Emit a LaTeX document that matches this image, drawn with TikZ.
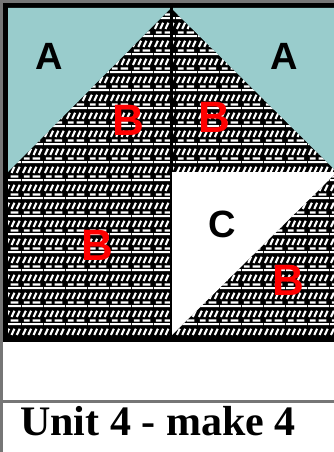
\documentclass[tikz,border=0pt]{standalone}
\usepackage{fontspec}
\setmainfont{Liberation Serif}
\setsansfont{Liberation Sans}
\usetikzlibrary{patterns}
\definecolor{patchteal}{RGB}{153,204,204}
\definecolor{framegray}{RGB}{118,118,118}
\definecolor{patchred}{RGB}{255,0,0}
\pgfdeclarepatternformonly{quiltweave}{\pgfqpoint{0pt}{0pt}}{\pgfqpoint{22pt}{18pt}}{\pgfqpoint{22pt}{18pt}}{
  \pgfsetlinewidth{2.2pt}
  \pgfpathmoveto{\pgfqpoint{0pt}{2pt}}\pgfpathlineto{\pgfqpoint{22pt}{2pt}}
  \pgfpathmoveto{\pgfqpoint{2pt}{5.8pt}}\pgfpathlineto{\pgfqpoint{8pt}{5.8pt}}
  \pgfpathmoveto{\pgfqpoint{11pt}{5.8pt}}\pgfpathlineto{\pgfqpoint{19pt}{5.8pt}}
  \pgfpathmoveto{\pgfqpoint{1pt}{9.5pt}}\pgfpathlineto{\pgfqpoint{4pt}{16pt}}
  \pgfpathmoveto{\pgfqpoint{6.5pt}{9.5pt}}\pgfpathlineto{\pgfqpoint{9.5pt}{16pt}}
  \pgfpathmoveto{\pgfqpoint{12pt}{9.5pt}}\pgfpathlineto{\pgfqpoint{15pt}{16pt}}
  \pgfpathmoveto{\pgfqpoint{17.5pt}{9.5pt}}\pgfpathlineto{\pgfqpoint{20.5pt}{16pt}}
  \pgfusepath{stroke}
}
\tikzset{
  patchA/.style={fill=patchteal},
  patchB/.style={fill=black, postaction={pattern=quiltweave, pattern color=white}},
  patchC/.style={fill=white},
  lblblack/.style={font=\sffamily\bfseries\fontsize{38}{38}\selectfont, text=black, inner sep=0pt},
  lblred/.style={font=\sffamily\bfseries\fontsize{44}{44}\selectfont, text=patchred, inner sep=0pt}
}
\begin{document}
\begin{tikzpicture}[x=1pt,y=-1pt]
    \useasboundingbox (0,0) rectangle (334,452);
    \coordinate (tl) at (8,8);
    \coordinate (tm) at (171,8);
    \coordinate (tr) at (337,8);
    \coordinate (ml) at (8,172);
    \coordinate (mm) at (171,172);
    \coordinate (mr) at (337,172);
    \coordinate (bl) at (8,336);
    \coordinate (bm) at (171,336);
    \coordinate (br) at (337,336);

    % frame of the cell
    \fill[framegray] (0,0) rectangle (3,452);
    \fill[framegray] (0,0) rectangle (337,3);
    \fill[framegray] (0,400) rectangle (337,403);
    \fill[black] (3,3) rectangle (337,342);

    \fill[patchB] (tm) -- (ml) -- (mr) -- cycle;
    \fill[patchB] (ml) rectangle (bm);
    \fill[patchB] (mr) -- (br) -- (bm) -- cycle;
    \fill[patchA] (tl) -- (tm) -- (ml) -- cycle;
    \fill[patchA] (tm) -- (tr) -- (mr) -- cycle;
    \fill[patchC] (mm) -- (mr) -- (bm) -- cycle;
    \draw[black, line width=3pt] (171,3) -- (mm);
    \draw[black, line width=2pt] (mm) -- (bm);

    \node[lblblack] (a1) at (49,56) {A};
    \node[lblblack] (a2) at (284,56) {A};
    \node[lblred] (b1) at (128,120) {B};
    \node[lblred] (b2) at (214,117) {B};
    \node[lblred] (b3) at (97,245) {B};
    \node[lblblack] (c1) at (222,224) {C};
    \node[lblred] (b4) at (288,280) {B};

    \node[anchor=base west, inner sep=0pt, font=\bfseries\fontsize{42}{42}\selectfont] (title) at (20,435) {Unit 4 - make 4};
\end{tikzpicture}
\end{document}
